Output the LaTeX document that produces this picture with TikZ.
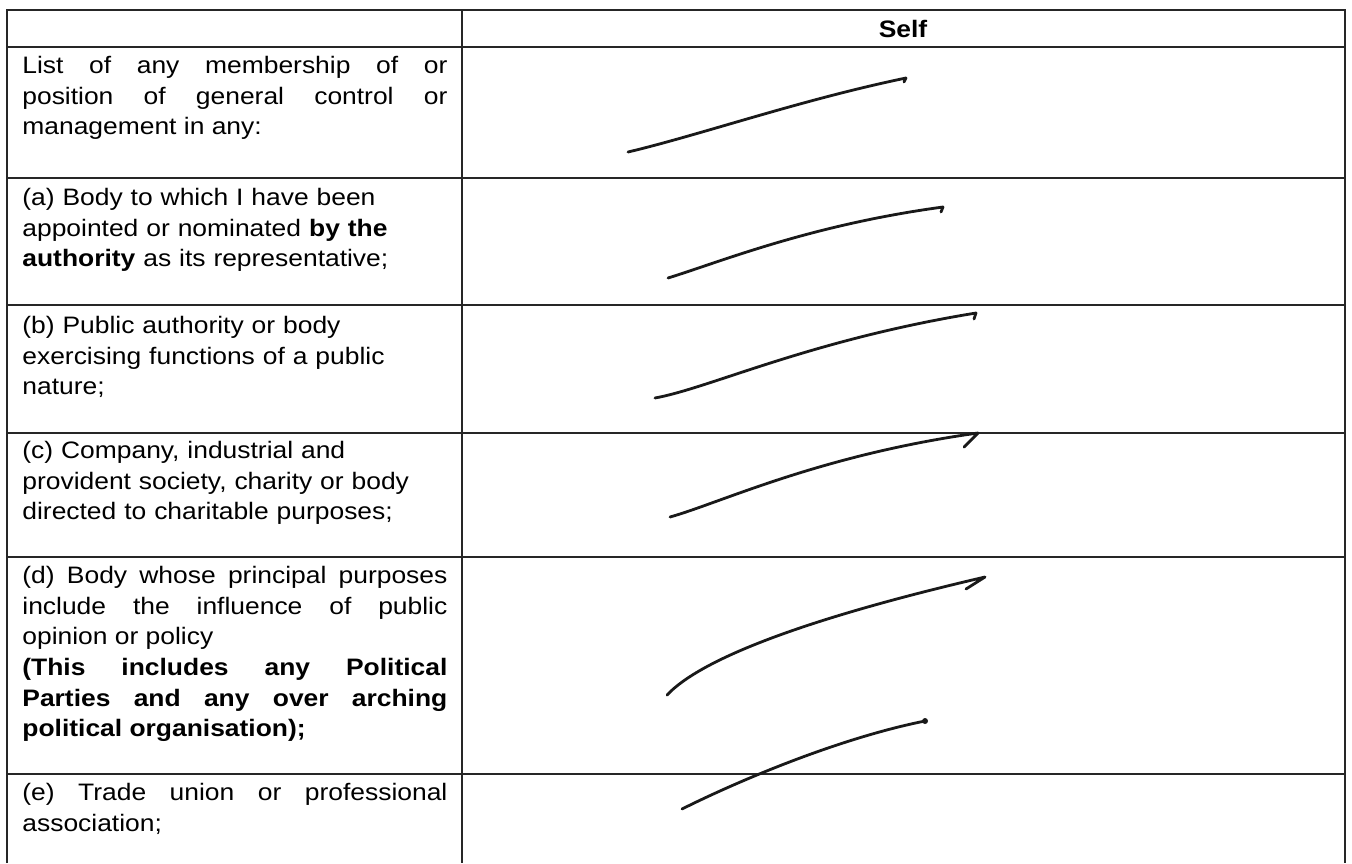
\documentclass[tikz,border=0pt]{standalone}
\usepackage{fontspec}
\setmainfont{Liberation Sans}[FakeStretch=1.11]
\begin{document}
\begin{tikzpicture}[x=0.5pt,y=-0.5pt,
        rule/.style={draw=black!85, line width=0.8pt},
        celltext/.style={anchor=north west, inner sep=0pt, text width=212.5pt, align=left,
            font=\fontsize{11.9}{15.35}\selectfont},
        celljust/.style={celltext, align=justify},
        pen/.style={draw=black!90, line width=1.4pt, line cap=round, line join=round}]
        \useasboundingbox (0,0) rectangle (1352,863);
        \draw[rule] (7,863) -- (7,10) -- (1345,10) -- (1345,863);
        \draw[rule] (462,10) -- (462,863);
        \foreach \y in {47,178,305,433,557,774}
            \draw[rule] (7,\y) -- (1345,\y);

        \node[anchor=base, inner sep=0pt, font=\fontsize{11.9}{15.35}\selectfont\bfseries] (self) at (903,37) {Self};

        \node[celljust] (list) at (22,51.5) {\strut List of any membership of or\linebreak position of general control or\linebreak management in any:};
        \node[celltext] (rowa) at (22,183.5) {\strut(a) Body to which I have been\\ appointed or nominated \textbf{by the}\\ \textbf{authority} as its representative;};
        \node[celltext] (rowb) at (22,311.5) {\strut(b) Public authority or body\\ exercising functions of a public\\ nature;};
        \node[celltext] (rowc) at (22,436.5) {\strut(c) Company, industrial and\\ provident society, charity or body\\ directed to charitable purposes;};
        \node[celljust] (rowd) at (22,561.5) {\strut(d) Body whose principal purposes\linebreak include the influence of public\linebreak opinion or policy\par
            \textbf{(This includes any Political\linebreak Parties and any over arching\linebreak political organisation);}};
        \node[celljust] (rowe) at (22,778.5) {\strut(e) Trade union or professional\linebreak association;};

        \draw[pen] (628,152) .. controls (700,135) and (800,100) .. (906,78) -- (904,82);
        \draw[pen] (668,278) .. controls (720,262) and (810,225) .. (943,207) -- (941,212);
        \draw[pen] (655,398) .. controls (710,388) and (810,340) .. (976,313) -- (974,319);
        \draw[pen] (670,517) .. controls (720,503) and (820,455) .. (978,433) -- (964,447);
        \draw[pen] (667,695) .. controls (700,660) and (800,620) .. (985,577) -- (966,589);
        \draw[pen] (682,809) .. controls (740,780) and (840,738) .. (925,721);
        \fill[black!90] (925,721) circle (3);
\end{tikzpicture}
\end{document}
